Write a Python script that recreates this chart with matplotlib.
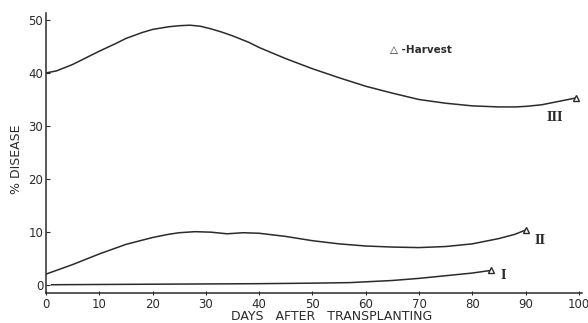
import matplotlib
matplotlib.use("Agg")
import matplotlib.pyplot as plt

# values (days after transplanting, % disease)
days_III = [0, 2, 5, 8, 10, 13, 15, 18, 20, 23, 25, 27, 29, 31, 33, 35, 38, 40, 45, 50, 55, 60,
            65, 70, 75, 80, 85, 88, 90, 93, 95, 97, 99.5]
dis_III = [40.0, 40.4, 41.6, 43.1, 44.1, 45.5, 46.5, 47.6, 48.2, 48.7, 48.9, 49.0, 48.8, 48.3,
           47.7, 47.0, 45.8, 44.8, 42.7, 40.8, 39.1, 37.5, 36.2, 35.0, 34.3, 33.8, 33.6, 33.6,
           33.7, 34.0, 34.4, 34.8, 35.3]

days_II = [0, 5, 10, 15, 20, 23, 25, 28, 31, 34, 37, 40, 45, 50, 55, 60, 65, 70, 75, 80, 85, 88, 90]
dis_II = [2.1, 3.9, 5.9, 7.7, 9.0, 9.6, 9.9, 10.1, 10.0, 9.7, 9.9, 9.8, 9.2, 8.4, 7.8, 7.4, 7.2,
          7.1, 7.3, 7.8, 8.8, 9.6, 10.4]

days_I = [1, 10, 20, 30, 40, 50, 57, 60, 65, 70, 75, 80, 83.5]
dis_I = [0.1, 0.15, 0.2, 0.25, 0.3, 0.4, 0.5, 0.65, 0.9, 1.3, 1.8, 2.3, 2.8]

x_ticks = [0, 10, 20, 30, 40, 50, 60, 70, 80, 90, 100]
y_ticks = [0, 10, 20, 30, 40, 50]

ink = "#2b2b2b"
fig = plt.figure(figsize=(5.88, 3.23), dpi=100)
ax = fig.add_axes([0.0782, 0.0938, 0.9116, 0.866])

for xs, ys in [(days_III, dis_III), (days_II, dis_II), (days_I, dis_I)]:
    ax.plot(xs, ys, color=ink, lw=1.1, solid_capstyle="round")
    # harvest marker at the last reading
    ax.plot(xs[-1], ys[-1], marker="^", ms=5, mfc="white", mec=ink, mew=1.0)

ax.text(95.5, 31.6, "III", family="DejaVu Serif", fontsize=8.5, fontweight="bold", color=ink,
        ha="center", va="center")
ax.text(92.8, 8.5, "II", family="DejaVu Serif", fontsize=8.5, fontweight="bold", color=ink,
        ha="center", va="center")
ax.text(85.8, 1.9, "I", family="DejaVu Serif", fontsize=8.5, fontweight="bold", color=ink,
        ha="center", va="center")
ax.text(64.5, 44.3, "△ -Harvest", fontsize=7.5, fontweight="bold", color=ink, ha="left", va="center")

ax.set_xlim(0, 100.6)
ax.set_ylim(-1.4, 51.3)
ax.set_xticks(x_ticks)
ax.set_yticks(y_ticks)
ax.tick_params(axis="y", direction="in", length=3, width=0.8, pad=2, labelsize=8.5, colors=ink)
ax.tick_params(axis="x", direction="inout", length=3, width=0.8, pad=2, labelsize=8.5, colors=ink)
for lab in ax.get_xticklabels() + ax.get_yticklabels():
    lab.set_fontweight("medium")
for s in ["top", "right"]:
    ax.spines[s].set_visible(False)
for s in ["left", "bottom"]:
    ax.spines[s].set_color(ink)
    ax.spines[s].set_linewidth(1.1)

fig.text(332 / 588, 1 - 317 / 323, "DAYS   AFTER   TRANSPLANTING", fontsize=9, fontweight="medium",
         color=ink, ha="center", va="center")
fig.text(16 / 588, 1 - 159 / 323, "% DISEASE", fontsize=9, fontweight="medium", color=ink,
         rotation=90, ha="center", va="center")

fig.savefig("out.png", dpi=100)
